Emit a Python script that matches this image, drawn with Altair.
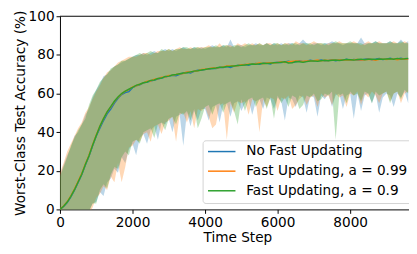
import altair as alt
import pandas as pd

STEPS = [i * 100 for i in range(97)]

SERIES = ["No Fast Updating", "Fast Updating, a = 0.99", "Fast Updating, a = 0.9"]
COLORS = ["#1f77b4", "#ff7f0e", "#2ca02c"]

MEAN_B = [0, 1.5, 3.5, 6.5, 10, 14, 18, 23, 27.5, 33,
          38, 42, 46, 49.5, 52, 55, 57.5, 59.5, 60.5, 61,
          63, 64, 64.5, 65.5, 66, 66.5, 67, 67.5, 68, 68.5,
          69, 69.5, 69.2, 70, 70.5, 71, 70.6, 71.5, 72, 72,
          72.5, 72.5, 73, 73, 73.5, 73.5, 74, 73.5, 74.2, 74.5,
          74.8, 75, 74.6, 75.2, 75.5, 75.1, 75.6, 75.8, 75.3, 76,
          76.2, 76, 76.3, 76.7, 76.2, 76.4, 76.9, 76.5, 76.7, 77.2,
          76.8, 77, 77.4, 76.9, 77.1, 77.5, 77, 77.4, 77.2, 77.7,
          77.3, 77.6, 77.4, 77.2, 77.8, 78, 77.5, 77.7, 78.1, 77.6,
          77.8, 78.2, 77.7, 77.9, 78.3, 77.8, 78]
MEAN_O = [0, 1.8, 4, 7, 10.5, 14.5, 18.5, 23.5, 28, 33.5,
          38.5, 43, 47, 50.5, 53, 55.8, 58, 59.8, 61.2, 62,
          63.4, 64, 64.8, 65.5, 66.4, 66.5, 67.4, 67.6, 68.4, 68.6,
          69.3, 69.4, 69.8, 70.2, 70.4, 71.2, 71.2, 71.5, 71.8, 72.4,
          72.6, 72.8, 73.2, 73.2, 73.4, 73.8, 74.2, 74.2, 74.4, 74.4,
          74.9, 75, 75.2, 75.1, 75.4, 75.8, 75.4, 75.8, 75.9, 75.8,
          76.1, 76.4, 76.1, 76.4, 76.6, 76.8, 76.7, 76.6, 76.9, 76.8,
          77, 77.3, 76.9, 77.2, 77.1, 77.3, 77.2, 77.4, 77.3, 77.5,
          77.4, 77.5, 77.6, 77.3, 77.5, 77.7, 77.6, 77.2, 77.7, 77.8,
          77.6, 77.8, 77.9, 77.5, 77.9, 78, 77.8]
MEAN_G = [0, 1.6, 3.8, 6.8, 10.2, 14.2, 18.2, 23.2, 27.8, 33.2,
          38.2, 43, 47, 50.5, 53.2, 56, 58.2, 60, 61.2, 62.2,
          63.2, 64.2, 64.8, 65.6, 66, 66.8, 67, 67.8, 68, 68.8,
          69, 69.6, 69.8, 70.2, 70.6, 70.8, 71.2, 71.6, 71.8, 72.2,
          72.4, 72.8, 73, 73.2, 73.6, 73.6, 74, 74.1, 74.3, 74.5,
          74.6, 74.8, 75, 75.3, 75.2, 75.4, 75.7, 75.5, 75.7, 75.9,
          76, 76.2, 76.4, 75.8, 75.9, 76.6, 76.4, 76.2, 76.5, 76.8,
          76.9, 76.7, 77, 77.2, 77, 77.2, 77.3, 77.1, 77.4, 77.6,
          77.5, 77.3, 77.6, 77.8, 77.5, 77.7, 77.8, 77.6, 77.9, 77.7,
          77.9, 78, 77.8, 78.1, 77.9, 78, 78.2]

LOW_B = [-20, -19, -18, -17, -15, -12, -9, -5, -1, 3,
         4, 9, 7, 14, 16, 21, 19, 27, 24, 31,
         34, 28, 37, 39, 34, 41, 43, 36, 45, 44,
         47, 40, 48, 49, 33, 50, 43, 51, 46, 52,
         52, 46, 53, 54, 45, 54, 55, 48, 55, 56,
         51, 55, 57, 49, 56, 57, 52, 58, 57, 52,
         58, 56, 46, 58, 57, 53, 59, 58, 50, 59,
         58, 48, 59, 57, 60, 53, 59, 60, 52, 59,
         60, 47, 60, 51, 59, 60, 55, 60, 50, 58,
         60, 59, 53, 60, 58, 61, 55]
LOW_O = [-22, -21, -20, -19, -17, -14, -11, -7, -3, 1,
         6, 8, 12, 10, 17, 14, 24, 14, 22, 32,
         33, 36, 35, 39, 40, 35, 43, 44, 39, 45,
         46, 48, 35, 49, 50, 45, 51, 42, 52, 51,
         53, 48, 42, 44, 54, 55, 36, 55, 50, 56,
         55, 56, 49, 57, 56, 40, 57, 53, 58, 57,
         51, 58, 57, 59, 52, 54, 57, 59, 54, 58,
         59, 53, 60, 58, 59, 54, 60, 58, 59, 53,
         60, 59, 61, 54, 60, 58, 61, 59, 55, 60,
         61, 56, 60, 61, 55, 60, 61]
LOW_G = [-20, -19, -18, -17, -15, -12, -9, -5, -1, 3,
         3, 10, 13, 11, 18, 22, 21, 27, 30, 28,
         35, 36, 34, 40, 41, 42, 37, 44, 45, 41,
         47, 48, 44, 50, 49, 51, 46, 52, 42, 47,
         53, 54, 49, 54, 55, 50, 55, 56, 51, 44,
         57, 51, 57, 58, 53, 57, 58, 52, 58, 47,
         59, 55, 58, 53, 59, 58, 52, 54, 59, 58,
         60, 56, 57, 60, 59, 61, 36, 59, 60, 55,
         61, 59, 60, 56, 61, 60, 55, 61, 59, 60,
         61, 55, 60, 61, 57, 62, 60]

UP_B = [18, 23, 28, 32, 38, 40, 44, 49, 52, 58,
        62, 65, 69, 70, 72, 74, 75, 76, 77, 78,
        79, 80, 80, 81, 80, 81, 82, 81, 82, 83,
        82, 83, 82, 83, 84, 83, 83, 84, 83, 84,
        83, 84, 85, 84, 84, 85, 84, 88, 84, 85,
        85, 84, 85, 85, 86, 85, 85, 86, 85, 86,
        85, 86, 85, 86, 86, 85, 86, 88, 86, 85,
        86, 86, 85, 86, 86, 87, 86, 86, 85, 86,
        86, 86, 86, 89, 86, 86, 86, 87, 86, 86,
        86, 87, 86, 86, 88, 86, 87]
UP_O = [19, 24, 30, 34, 38, 42, 45, 50, 53, 57,
        61, 64, 68, 71, 72, 74, 76, 77, 78, 79,
        79, 79, 80, 81, 81, 80, 81, 82, 82, 82,
        83, 82, 83, 84, 83, 83, 84, 83, 84, 84,
        84, 85, 84, 84, 86, 84, 85, 85, 84, 86,
        85, 86, 85, 86, 85, 86, 85, 86, 86, 85,
        86, 85, 86, 86, 85, 87, 86, 86, 85, 86,
        87, 86, 86, 85, 86, 86, 86, 87, 86, 86,
        86, 87, 86, 85, 86, 87, 86, 86, 87, 86,
        86, 86, 87, 86, 86, 87, 86]
UP_G = [17, 22, 27, 33, 37, 41, 44, 47, 54, 59,
        62, 66, 68, 70, 73, 74, 75, 77, 77, 78,
        79, 80, 81, 80, 81, 82, 81, 81, 83, 82,
        83, 82, 83, 83, 84, 84, 83, 84, 84, 83,
        84, 84, 84, 85, 84, 85, 85, 84, 85, 85,
        84, 85, 86, 85, 85, 86, 85, 86, 85, 86,
        86, 85, 86, 85, 86, 86, 85, 86, 86, 86,
        85, 86, 86, 86, 85, 86, 87, 86, 86, 86,
        87, 86, 86, 86, 85, 86, 86, 87, 86, 86,
        86, 87, 86, 86, 87, 86, 86]

X_TICKS = [0, 2000, 4000, 6000, 8000]
Y_TICKS = [0, 20, 40, 60, 80, 100]

rows = []
for name, m, lo, up in zip(SERIES, [MEAN_B, MEAN_O, MEAN_G], [LOW_B, LOW_O, LOW_G], [UP_B, UP_O, UP_G]):
    for s, a, b, c in zip(STEPS, m, lo, up):
        rows.append({"step": s, "series": name, "mean": a, "low": b, "up": c})
df = pd.DataFrame(rows)

W, H = 356, 197
FONT = "DejaVu Sans"
FS = 13.9

x_axis = alt.Axis(values=X_TICKS, format="d", title="Time Step", grid=False,
                  labelFontSize=FS, labelFont=FONT, titleFont=FONT,
                  titleFontSize=FS, titleFontWeight="normal", labelColor="black",
                  titleColor="black", domainColor="black", tickColor="black",
                  tickSize=4, labelPadding=2, titlePadding=2, titleX=181,
                  labelFlush=False, labelOverlap=False)
x = alt.X("step:Q", scale=alt.Scale(domain=[0, 9622], nice=False), axis=x_axis)
y_scale = alt.Scale(domain=[0, 100], nice=False)
y_axis = alt.Axis(values=Y_TICKS, title="Worst-Class Test Accuracy (%)", grid=False,
                  labelFontSize=FS, labelFont=FONT, titleFont=FONT, titleFontSize=FS,
                  titleFontWeight="normal", labelOverlap=False, labelFlush=False,
                  labelColor="black", titleColor="black", domainColor="black",
                  tickColor="black", tickSize=4, labelPadding=2, titlePadding=1)
cscale = alt.Scale(domain=SERIES, range=COLORS)

areas = alt.Chart(df).mark_area(opacity=0.3, clip=True, interpolate="linear").encode(
    x=x,
    y=alt.Y("low:Q", scale=y_scale, axis=y_axis),
    y2="up:Q",
    color=alt.Color("series:N", scale=cscale, legend=None),
)
lines = alt.Chart(df).mark_line(strokeWidth=1.5, clip=True).encode(
    x=x,
    y=alt.Y("mean:Q", scale=y_scale, axis=y_axis),
    color=alt.Color("series:N", scale=cscale, legend=None),
    order=alt.Order("step:Q"),
)
top = alt.Chart(pd.DataFrame({"v": [100]})).mark_rule(color="black", strokeWidth=1).encode(
    y=alt.Y("v:Q", scale=y_scale, axis=y_axis), x=alt.value(0), x2=alt.value(W)
)

# manual legend (matplotlib style box)
LX, LY = 146, 127
box = alt.Chart(pd.DataFrame({"a": [0]})).mark_rect(
    fill="white", stroke="#cccccc", strokeWidth=1, cornerRadius=3, opacity=0.85
).encode(x=alt.value(LX), x2=alt.value(LX + 290), y=alt.value(LY), y2=alt.value(LY + 64))
leg_layers = [box]
for i, (name, col) in enumerate(zip(SERIES, COLORS)):
    yy = LY + 11 + 20 * i
    leg_layers.append(
        alt.Chart(pd.DataFrame({"series": [name]})).mark_rule(color=col, strokeWidth=1.5).encode(
            x=alt.value(LX + 5), x2=alt.value(LX + 33), y=alt.value(yy)
        )
    )
    leg_layers.append(
        alt.Chart(pd.DataFrame({"series": [name]})).mark_text(
            align="left", baseline="middle", font=FONT, fontSize=FS, color="black"
        ).encode(text="series:N", x=alt.value(LX + 44), y=alt.value(yy))
    )

chart = alt.layer(areas, lines, top, *leg_layers).properties(
    width=W, height=H,
    autosize=alt.AutoSizeParams(type="none"),
    padding={"left": 53, "top": 6, "right": 0, "bottom": 40},
).configure_view(stroke=None)

chart.save("out.html", embed_options={"renderer": "svg", "actions": False})
